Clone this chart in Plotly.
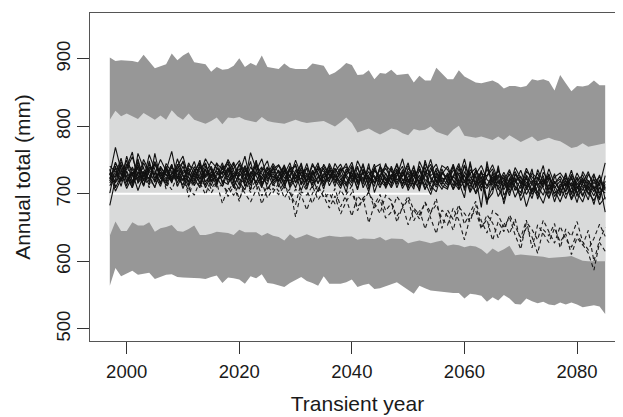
import plotly.graph_objects as go

years = list(range(1997, 2086))

# Outer (dark grey) band limits
outer_upper = [
    902, 897, 898, 898, 897, 895, 906, 896, 886, 889,
    892, 908, 898, 905, 910, 895, 893, 892, 881, 888,
    884, 885, 890, 901, 888, 894, 890, 905, 888, 886,
    885, 893, 887, 885, 885, 885, 893, 892, 890, 876,
    880, 886, 894, 891, 876, 877, 883, 870, 879, 878,
    884, 876, 877, 878, 865, 875, 868, 868, 887, 878,
    870, 870, 883, 874, 870, 865, 864, 866, 868, 864,
    856, 860, 860, 858, 860, 870, 868, 870, 867, 853,
    876, 864, 852, 860, 859, 861, 868, 861, 861,
]
outer_lower = [
    564, 590, 578, 582, 586, 580, 582, 583, 574, 577,
    580, 581, 577, 576, 576, 575, 575, 574, 577, 579,
    568, 576, 575, 573, 567, 578, 575, 581, 568, 567,
    565, 562, 568, 573, 577, 571, 568, 564, 578, 567,
    567, 567, 569, 573, 562, 565, 567, 559, 560, 563,
    566, 569, 563, 558, 552, 564, 560, 557, 557, 555,
    554, 553, 553, 545, 552, 551, 549, 540, 547, 542,
    550, 545, 537, 536, 545, 541, 538, 540, 536, 535,
    539, 536, 539, 536, 532, 534, 535, 533, 522,
]
# Inner (light grey) band limits
inner_upper = [
    810, 823, 815, 819, 815, 811, 820, 815, 810, 816,
    810, 824, 815, 810, 819, 810, 807, 804, 808, 813,
    803, 813, 812, 814, 810, 808, 806, 814, 808, 806,
    805, 804, 807, 810, 807, 805, 806, 807, 808, 804,
    800, 806, 813, 805, 791, 794, 797, 792, 788, 792,
    797, 795, 790, 787, 796, 794, 795, 800, 792, 789,
    786, 795, 801, 786, 785, 783, 785, 782, 780, 785,
    780, 787, 782, 777, 781, 785, 778, 781, 783, 780,
    778, 773, 768, 770, 775, 770, 772, 773, 775,
]
inner_lower = [
    638, 659, 645, 645, 658, 653, 653, 658, 644, 649,
    651, 654, 645, 644, 648, 653, 639, 639, 641, 644,
    643, 642, 639, 647, 643, 643, 643, 638, 642, 638,
    636, 631, 640, 634, 637, 640, 637, 634, 636, 638,
    637, 636, 637, 637, 632, 634, 634, 633, 636, 631,
    634, 633, 633, 627, 629, 631, 629, 627, 629, 631,
    623, 625, 624, 621, 623, 622, 618, 611, 619, 614,
    618, 623, 609, 610, 609, 609, 608, 607, 605, 605,
    606, 607, 608, 604, 601, 600, 599, 600, 600,
]

# White reference line
ref_years = [1997, 2054]
ref_values = [700, 700]

# Solid model runs
solid_runs = [
    [728, 769, 735, 712, 740, 722, 751, 733, 718, 741,
     727, 744, 716, 735, 729, 748, 721, 737, 712, 731,
     724, 739, 718, 745, 727, 713, 734, 752, 722, 730,
     717, 741, 726, 709, 733, 720, 745, 728, 714, 736,
     722, 708, 731, 747, 716, 725, 703, 738, 719, 711,
     729, 714, 736, 705, 722, 741, 717, 699, 726, 712,
     707, 744, 718, 694, 748, 709, 735, 690, 701, 742,
     698, 712, 724, 690, 708, 719, 703, 686, 714, 701,
     709, 693, 717, 702, 688, 712, 697, 721, 705],
    [683, 722, 748, 731, 709, 760, 738, 717, 745, 726,
     739, 719, 752, 728, 711, 733, 746, 724, 738, 715,
     742, 728, 709, 731, 719, 761, 736, 712, 728, 745,
     731, 715, 738, 722, 746, 711, 729, 737, 718, 724,
     738, 721, 713, 735, 724, 742, 718, 727, 709, 731,
     716, 733, 708, 725, 739, 714, 726, 751, 719, 707,
     722, 740, 713, 728, 702, 719, 733, 711, 725, 696,
     714, 729, 705, 721, 699, 716, 731, 708, 694, 719,
     703, 716, 691, 708, 724, 699, 712, 684, 695],
    [741, 733, 718, 756, 727, 744, 712, 735, 729, 751,
     734, 763, 722, 741, 717, 729, 750, 713, 733, 724,
     711, 733, 747, 726, 738, 716, 729, 740, 707, 721,
     734, 712, 728, 744, 716, 739, 724, 703, 730, 718,
     745, 729, 716, 732, 706, 737, 721, 744, 713, 725,
     709, 726, 752, 718, 731, 704, 750, 722, 710, 729,
     741, 719, 706, 733, 715, 727, 704, 742, 717, 711,
     728, 702, 717, 735, 711, 693, 725, 714, 730, 706,
     688, 711, 726, 701, 715, 733, 708, 694, 719],
    [719, 747, 728, 739, 762, 716, 733, 722, 748, 731,
     712, 729, 741, 756, 724, 716, 738, 745, 719, 727,
     746, 720, 731, 713, 742, 725, 718, 734, 749, 716,
     726, 743, 711, 735, 728, 719, 742, 731, 707, 739,
     716, 735, 740, 722, 731, 714, 745, 702, 726, 738,
     722, 745, 719, 731, 711, 728, 706, 733, 744, 718,
     728, 706, 722, 752, 717, 702, 726, 684, 733, 709,
     691, 724, 710, 697, 728, 715, 701, 732, 719, 688,
     715, 704, 729, 712, 696, 720, 707, 716, 673],
    [735, 716, 742, 725, 709, 733, 721, 758, 737, 714,
     745, 732, 726, 713, 742, 737, 715, 729, 748, 738,
     729, 751, 734, 722, 716, 740, 727, 709, 738, 731,
     742, 723, 735, 717, 739, 728, 713, 735, 741, 727,
     733, 744, 724, 711, 739, 720, 733, 716, 728, 742,
     734, 717, 727, 746, 713, 735, 721, 715, 738, 724,
     713, 727, 745, 716, 730, 738, 714, 708, 722, 734,
     719, 736, 711, 702, 726, 704, 718, 742, 700, 725,
     731, 719, 702, 725, 710, 691, 727, 712, 746],
    [724, 738, 711, 744, 736, 718, 746, 727, 709, 739,
     729, 718, 737, 747, 731, 722, 709, 741, 726, 734,
     719, 714, 738, 749, 731, 706, 743, 729, 719, 737,
     743, 730, 715, 728, 722, 745, 716, 723, 738, 712,
     729, 717, 737, 725, 741, 709, 728, 736, 723, 716,
     738, 709, 731, 722, 707, 748, 729, 712, 703, 733,
     718, 735, 728, 709, 744, 712, 720, 691, 710, 727,
     685, 718, 733, 716, 681, 709, 697, 723, 707, 716,
     722, 699, 708, 731, 714, 702, 690, 709, 701],
    [712, 728, 753, 719, 732, 705, 728, 744, 723, 732,
     718, 740, 729, 721, 736, 712, 729, 752, 736, 717,
     733, 725, 744, 718, 706, 733, 716, 738, 732, 712,
     725, 708, 737, 741, 713, 731, 719, 742, 724, 733,
     711, 738, 728, 716, 749, 730, 712, 722, 735, 720,
     725, 737, 712, 738, 726, 719, 745, 727, 734, 714,
     731, 712, 737, 720, 711, 729, 742, 721, 714, 737,
     706, 721, 695, 713, 738, 720, 712, 698, 724, 712,
     697, 724, 713, 687, 719, 706, 722, 698, 711],
    [737, 709, 726, 750, 718, 741, 730, 713, 760, 722,
     733, 725, 739, 719, 746, 729, 717, 735, 723, 745,
     736, 748, 724, 733, 740, 721, 747, 717, 725, 739,
     710, 734, 719, 730, 743, 714, 726, 739, 733, 721,
     737, 726, 702, 740, 714, 733, 725, 711, 741, 729,
     715, 728, 741, 711, 735, 723, 713, 739, 718, 742,
     736, 720, 711, 742, 725, 715, 730, 727, 743, 719,
     711, 733, 717, 726, 706, 731, 722, 710, 737, 715,
     726, 711, 735, 707, 721, 716, 703, 728, 692],
    [701, 741, 720, 734, 715, 748, 726, 739, 732, 716,
     741, 722, 735, 708, 730, 719, 744, 726, 741, 720,
     726, 735, 712, 729, 756, 718, 731, 725, 714, 742,
     719, 736, 724, 750, 727, 707, 735, 716, 729, 741,
     724, 739, 711, 728, 720, 745, 707, 734, 727, 713,
     741, 720, 732, 716, 742, 710, 734, 725, 713, 737,
     716, 724, 741, 705, 736, 724, 680, 748, 706, 719,
     724, 710, 739, 723, 717, 702, 736, 717, 727, 696,
     710, 728, 693, 716, 705, 729, 715, 726, 707],
    [731, 725, 744, 717, 729, 738, 711, 749, 719, 736,
     722, 743, 711, 730, 738, 725, 741, 718, 729, 712,
     740, 716, 727, 737, 722, 748, 712, 727, 740, 724,
     735, 718, 741, 729, 705, 727, 733, 715, 744, 729,
     720, 731, 745, 719, 729, 718, 739, 724, 717, 745,
     720, 731, 715, 733, 726, 737, 708, 719, 731, 722,
     724, 708, 731, 726, 719, 734, 709, 726, 737, 715,
     732, 714, 721, 708, 733, 725, 714, 720, 706, 730,
     700, 719, 712, 723, 698, 714, 730, 701, 714],
    [722, 745, 731, 708, 726, 752, 719, 740, 728, 711,
     736, 716, 744, 726, 719, 740, 733, 709, 727, 746,
     715, 738, 726, 744, 711, 730, 741, 721, 736, 719,
     728, 740, 709, 724, 736, 718, 730, 746, 712, 726,
     733, 713, 727, 742, 718, 731, 715, 739, 744, 708,
     727, 742, 721, 709, 733, 716, 740, 705, 729, 718,
     709, 726, 716, 743, 704, 735, 723, 712, 729, 706,
     721, 697, 729, 715, 723, 699, 711, 727, 693, 718,
     706, 731, 699, 719, 728, 711, 684, 720, 709],
    [730, 704, 722, 737, 755, 727, 713, 736, 744, 725,
     716, 731, 724, 749, 713, 735, 722, 746, 717, 738,
     730, 745, 721, 707, 735, 727, 750, 713, 731, 726,
     720, 729, 746, 716, 731, 737, 709, 726, 719, 745,
     727, 712, 734, 730, 708, 736, 723, 717, 739, 721,
     712, 735, 726, 742, 719, 707, 731, 744, 716, 730,
     725, 743, 707, 719, 732, 700, 715, 737, 718, 728,
     715, 706, 730, 719, 711, 737, 692, 716, 724, 709,
     719, 703, 724, 696, 733, 718, 709, 691, 727],
]

# Dashed model runs
dashed_runs = [
    [724, 712, 738, 719, 731, 716, 727, 709, 733, 718,
     721, 736, 712, 724, 704, 729, 717, 699, 722, 710,
     713, 703, 718, 692, 714, 707, 721, 697, 711, 702,
     716, 694, 708, 666, 703, 698, 712, 691, 705, 688,
     708, 681, 699, 712, 675, 694, 702, 686, 671, 698,
     690, 658, 681, 697, 676, 663, 688, 672, 693, 649,
     676, 662, 684, 655, 671, 689, 660, 642, 675, 668,
     651, 665, 639, 618, 658, 647, 632, 661, 644, 627,
     652, 633, 621, 641, 625, 612, 587, 628, 615],
    [716, 733, 721, 744, 714, 729, 739, 722, 711, 730,
     719, 706, 727, 716, 709, 698, 719, 713, 701, 716,
     686, 709, 698, 714, 701, 688, 706, 717, 694, 708,
     699, 712, 701, 684, 717, 705, 686, 709, 696, 679,
     697, 670, 689, 702, 680, 693, 657, 684, 699, 675,
     686, 667, 679, 692, 660, 677, 648, 672, 684, 663,
     654, 679, 661, 632, 666, 675, 648, 669, 657, 635,
     658, 641, 663, 629, 650, 636, 612, 647, 638, 656,
     620, 648, 637, 659, 629, 617, 634, 655, 637],
    [729, 718, 735, 726, 712, 741, 724, 731, 717, 738,
     707, 728, 719, 733, 695, 724, 711, 728, 707, 721,
     718, 696, 712, 689, 720, 702, 714, 685, 707, 715,
     704, 717, 691, 707, 698, 676, 701, 713, 694, 701,
     685, 706, 692, 667, 697, 688, 703, 679, 692, 664,
     673, 696, 684, 654, 679, 669, 687, 665, 641, 676,
     667, 646, 680, 671, 659, 684, 651, 662, 631, 659,
     644, 669, 652, 635, 661, 620, 654, 640, 628, 649,
     629, 641, 610, 635, 624, 646, 600, 632, 650],
]

x_ticks = [2000, 2020, 2040, 2060, 2080]
y_ticks = [500, 600, 700, 800, 900]

DARK = "#979797"
LIGHT = "#d9dada"
FONT = "Liberation Sans, Arial, sans-serif"

fig = go.Figure()


def band(upper, lower, color):
    return go.Scatter(
        x=years + years[::-1],
        y=upper + lower[::-1],
        fill="toself",
        fillcolor=color,
        line=dict(width=0, color=color),
        mode="lines",
        hoverinfo="skip",
        showlegend=False,
    )


fig.add_trace(band(outer_upper, outer_lower, DARK))
fig.add_trace(band(inner_upper, inner_lower, LIGHT))
fig.add_trace(go.Scatter(x=ref_years, y=ref_values, mode="lines",
                         line=dict(color="white", width=2), showlegend=False))

for run in dashed_runs:
    fig.add_trace(go.Scatter(x=years, y=run, mode="lines",
                             line=dict(color="#1a1a1a", width=1.1, dash="4px,3px"),
                             showlegend=False))
for run in solid_runs:
    fig.add_trace(go.Scatter(x=years, y=run, mode="lines",
                             line=dict(color="#111111", width=1.1),
                             showlegend=False))

fig.update_layout(
    width=623, height=417,
    margin=dict(l=82, r=6, t=5, b=84),
    paper_bgcolor="white", plot_bgcolor="white",
    font=dict(family=FONT, color="#1a1a1a"),
    showlegend=False,
)
fig.update_xaxes(
    range=[1993.48, 2088.52],
    tickvals=x_ticks, ticktext=[str(v) for v in x_ticks],
    ticks="outside", ticklen=12, tickwidth=1, tickcolor="#333",
    tickfont=dict(size=18.5, family=FONT, color="#1a1a1a"),
    ticklabelstandoff=2,
    showline=True, linecolor="#555", linewidth=1, mirror=True,
    showgrid=False, zeroline=False,
    title=dict(text="Transient year", font=dict(size=21, family=FONT, color="#1a1a1a"), standoff=15),
)
fig.update_yaxes(
    range=[482, 968],
    tickvals=y_ticks, ticktext=[str(v) for v in y_ticks],
    ticks="outside", ticklen=12, tickwidth=1, tickcolor="#333",
    tickangle=-90,
    tickfont=dict(size=18.5, family=FONT, color="#1a1a1a"),
    ticklabelstandoff=0,
    showline=True, linecolor="#555", linewidth=1, mirror=True,
    showgrid=False, zeroline=False,
    title=dict(text="Annual total (mm)", font=dict(size=21, family=FONT, color="#1a1a1a"), standoff=16),
)

fig.write_html("out.html")
